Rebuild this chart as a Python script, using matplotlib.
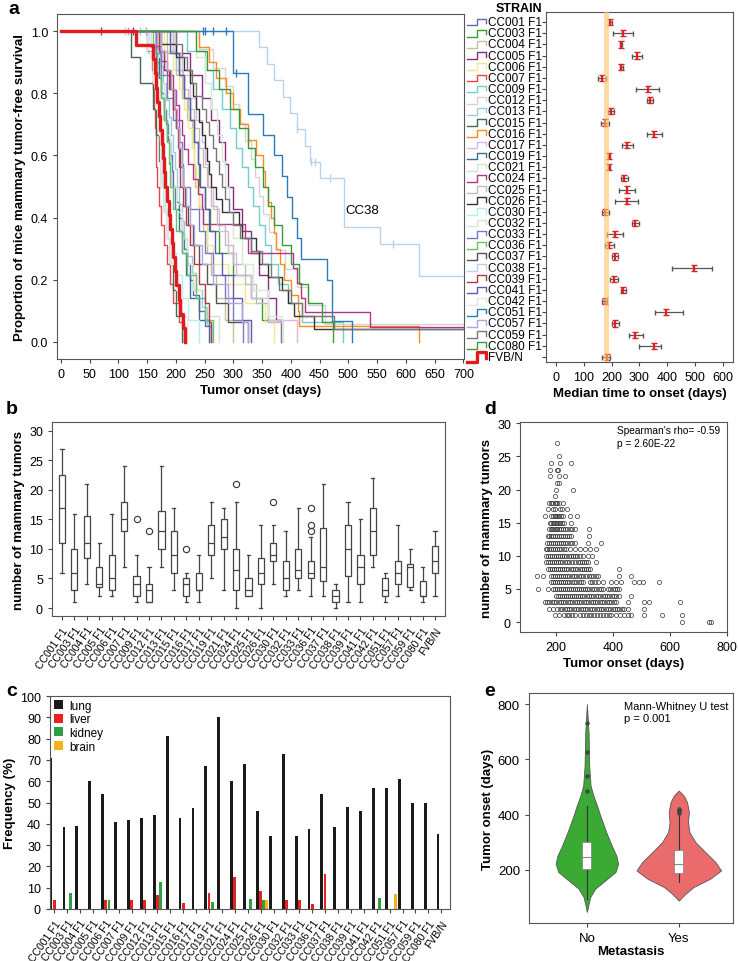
import numpy as np
import matplotlib
matplotlib.use('Agg')
import matplotlib.pyplot as plt
import matplotlib.transforms as mtransforms

plt.rcParams['font.family'] = ['Liberation Sans', 'DejaVu Sans']
plt.rcParams['axes.edgecolor'] = '#555555'
plt.rcParams['axes.linewidth'] = 0.8
plt.rcParams['xtick.color'] = '#444444'
plt.rcParams['ytick.color'] = '#444444'
plt.rcParams['xtick.labelcolor'] = 'black'
plt.rcParams['ytick.labelcolor'] = 'black'
plt.rcParams['xtick.major.size'] = 3
plt.rcParams['ytick.major.size'] = 3

# ---------------- data ----------------
strains = ['CC001 F1', 'CC003 F1', 'CC004 F1', 'CC005 F1', 'CC006 F1', 'CC007 F1',
           'CC009 F1', 'CC012 F1', 'CC013 F1', 'CC015 F1', 'CC016 F1', 'CC017 F1',
           'CC019 F1', 'CC021 F1', 'CC024 F1', 'CC025 F1', 'CC026 F1', 'CC030 F1',
           'CC032 F1', 'CC033 F1', 'CC036 F1', 'CC037 F1', 'CC038 F1', 'CC039 F1',
           'CC041 F1', 'CC042 F1', 'CC051 F1', 'CC057 F1', 'CC059 F1', 'CC080 F1', 'FVB/N']

strain_colors = ['#5a6bb5', '#33a02c', '#c8c09a', '#8b2a7e', '#efe98a', '#e8444a',
                 '#6fcfc9', '#d4d4d4', '#9ecae1', '#3f6b50', '#ff8c1a', '#e4b4dc',
                 '#3a6e9a', '#cfe8c8', '#b5338a', '#bdbdbd', '#333333', '#b8ecec',
                 '#d5ead0', '#7b79c5', '#6cbf6c', '#555555', '#b9d3ee', '#b03a48',
                 '#5a5ab0', '#e8e8e8', '#2b7bba', '#b7a3d6', '#777777', '#3a9a3a', '#e31a1c']

# Kaplan-Meier input: group size and tumor onset days per strain
km_n = [20, 14, 14, 14, 16, 16, 16, 17, 18, 12, 20, 14, 14, 12, 21, 16, 24, 14,
        12, 14, 14, 16, 19, 16, 14, 12, 15, 16, 24, 16, 22]
km_events = [
    [155, 165, 170, 175, 180, 183, 186, 190, 193, 196, 200, 205, 210, 215, 220, 225, 230, 240, 250, 262],
    [195, 205, 215, 225, 232, 238, 241, 250, 260, 275, 300, 330, 350, 385],
    [185, 200, 210, 220, 228, 232, 234, 240, 248, 255, 262, 270, 285, 300],
    [200, 225, 245, 262, 275, 285, 290, 300, 315, 330, 345, 360, 375, 383],
    [180, 195, 205, 215, 222, 228, 232, 235, 240, 248, 255, 265, 290, 320, 355, 370],
    [150, 158, 160, 162, 164, 165, 166, 168, 170, 175, 180, 185, 190, 196, 205, 215],
    [220, 250, 265, 280, 295, 305, 315, 325, 335, 345, 355, 365, 378, 395, 420, 490],
    [240, 265, 285, 300, 310, 320, 330, 338, 345, 352, 362, 375, 390, 410, 430, 460],
    [165, 172, 178, 183, 188, 192, 196, 199, 202, 206, 210, 215, 220, 228, 235, 245, 255, 262],
    [122, 137, 160, 165, 170, 175, 180, 185, 190, 195, 200, 210],
    [240, 258, 270, 288, 300, 312, 325, 340, 352, 355, 360, 365, 370, 375, 382, 388, 400, 412, 415, 622],
    [195, 210, 225, 235, 245, 250, 256, 265, 275, 290, 305, 330, 360, 410],
    [165, 170, 175, 180, 185, 190, 192, 198, 205, 210, 218, 225, 240, 258],
    [170, 175, 180, 185, 190, 192, 200, 210, 220, 230, 250, 275],
    [165, 175, 185, 195, 200, 205, 210, 215, 222, 230, 238, 245, 248, 320, 325, 404, 410, 418, 425, 538],
    [190, 200, 212, 222, 232, 240, 248, 254, 262, 272, 285, 300, 320, 340, 360, 385],
    [175, 200, 215, 225, 230, 235, 240, 245, 250, 255, 258, 262, 270, 280, 310, 315, 340, 345, 360, 385, 395, 405, 441],
    [150, 160, 165, 170, 172, 175, 177, 182, 188, 195, 200, 210, 222, 240],
    [235, 250, 262, 272, 280, 285, 292, 300, 315, 335, 360, 385],
    [165, 175, 185, 195, 205, 210, 212, 225, 240, 250, 265, 285, 300, 316],
    [160, 168, 175, 180, 185, 188, 190, 195, 200, 210, 220, 235, 250, 265],
    [170, 180, 190, 196, 200, 205, 208, 212, 216, 222, 230, 240, 255, 270, 290, 326],
    [345, 358, 371, 387, 398, 411, 425, 433, 450, 493, 493, 493, 555, 623, 623],
    [170, 180, 188, 195, 200, 203, 205, 207, 212, 218, 225, 232, 240, 250, 258, 262],
    [190, 205, 215, 225, 232, 238, 242, 250, 258, 268, 280, 300, 315, 330],
    [155, 160, 165, 170, 173, 175, 180, 185, 190, 200, 210, 220],
    [300, 300, 326, 326, 352, 371, 385, 394, 402, 410, 417, 462, 471, 471, 506],
    [175, 185, 192, 198, 202, 206, 210, 213, 218, 225, 232, 245, 265, 290, 315, 326],
    [200, 210, 220, 228, 235, 245, 252, 258, 265, 270, 275, 280, 285, 292, 300, 312, 330, 350, 365, 380, 400, 420, 475],
    [235, 255, 275, 295, 310, 325, 338, 351, 360, 370, 385, 400, 415, 430, 455, 474],
    [131, 160, 163, 166, 168, 170, 173, 176, 178, 180, 182, 185, 188, 190, 193, 195, 198, 200, 205, 208, 212, 216],
]
km_censored = {'CC024 F1': [70], 'CC017 F1': [112], 'CC057 F1': [117, 148], 'CC005 F1': [126],
               'CC013 F1': [137], 'CC051 F1': [248, 251, 264, 287, 305],
               'CC038 F1': [411, 435, 442, 468, 578]}

median_onset = [196, 241, 234, 290, 235, 166, 330, 338, 199, 175, 353, 256, 192, 192, 245, 254,
                254, 177, 285, 212, 190, 212, 496, 207, 242, 175, 397, 213, 285, 351, 182]
median_lo = [190, 206, 229, 275, 231, 152, 287, 326, 188, 163, 328, 237, 188, 188, 233, 225,
             213, 164, 273, 182, 176, 200, 416, 194, 235, 164, 358, 201, 261, 299, 166]
median_hi = [202, 277, 239, 308, 240, 180, 371, 350, 208, 189, 380, 278, 196, 196, 259, 286,
             295, 190, 297, 240, 208, 224, 563, 222, 251, 185, 456, 225, 312, 377, 196]

# panel b: box statistics of tumor number per strain
box_whislo = [6, 1, 4, 2, 2, 7, 1, 1, 7, 3, 1, 1, 5, 3, 0, 2, 0, 4, 2, 3, 2, 2, 0, 1, 1, 7, 1, 2, 3, 1, 2]
box_q1 = [11, 3, 8.5, 3.5, 3, 13, 2, 1, 10, 6, 2, 3, 9, 10, 3, 2, 4, 8, 3, 5, 5, 4.5, 1, 5.5, 4, 9, 2, 4, 3.5, 2, 6]
box_med = [17, 6, 11, 4, 5, 15, 4, 3, 13, 9, 4, 3, 11, 12, 6.5, 3, 6, 9, 5, 6.5, 6, 7, 2, 10, 7, 13, 3, 6, 7, 2, 8]
box_q3 = [22.5, 10, 15.5, 7, 9, 18, 5.5, 4, 16.5, 13, 5, 6, 14, 15, 10, 5, 8.5, 11, 8, 10, 8, 13.5, 3, 14, 9, 17, 5, 8, 7.5, 4.5, 10.5]
box_whishi = [27, 16, 21, 11, 16, 24, 9, 7, 24, 17, 6, 9, 18, 17, 18, 9, 14, 14, 13, 17, 12, 21, 4, 18, 15, 22, 6, 14, 10, 7, 13]
box_fliers = {6: [15], 7: [13], 10: [10], 14: [21], 17: [18], 20: [13, 14, 17]}

# panel c: metastasis frequency (%)
lung_pct = [71, 38.5, 39, 60, 54, 41, 42, 42.5, 44, 81, 42.5, 47.5, 67, 90, 60, 68, 46, 34.5,
            73, 34.5, 37.5, 54, 38.5, 48, 46, 57, 57, 61, 50, 50, 35]
liver_pct = [4, 0, 0, 0, 4, 0, 4, 4, 6.5, 0, 3, 0, 7.5, 0, 15, 0, 8.5, 0, 4, 4, 2.5, 16.5,
             0, 0, 0, 0, 0, 0, 0, 0, 0]
kidney_pct = [0, 7.5, 0, 0, 4, 0, 0, 0, 12.5, 0, 0, 0, 3.5, 0, 0, 4.5, 4, 0, 0, 0, 0, 0,
              0, 0, 0, 5, 0, 0, 0, 0, 0]
brain_pct = [0, 0, 0, 0, 0, 0, 0, 0, 0, 0, 0, 0, 0, 0, 0, 0, 4, 0, 0, 0, 0, 0,
             0, 0, 0, 0, 7, 0, 0, 0, 0]

# panel d: tumor number vs onset day, one row per tumor count
scatter_rows = {
    27: [205],
    25: [212],
    24: [184, 214, 255],
    23: [179, 205, 208],
    22: [181, 212, 234],
    21: [205, 212],
    20: [202, 260],
    19: [197],
    18: [178, 183, 188, 196, 200, 204, 210, 226],
    17: [173, 190, 197, 216, 222, 239],
    16: [162, 185, 191, 196, 201, 207, 212, 218, 225, 251, 275],
    15: [179, 185, 190, 195, 200, 206, 211, 216, 222, 229, 255],
    14: [176, 182, 188, 194, 200, 206, 212, 218, 225, 233, 241, 249, 258, 266, 316],
    13: [172, 178, 185, 191, 197, 204, 210, 217, 224, 231, 239, 247, 255, 316],
    12: [171, 177, 184, 190, 197, 204, 210, 217, 224, 231, 238, 249, 258, 268, 313, 357],
    11: [165, 171, 178, 185, 192, 199, 206, 213, 220, 228, 235, 249, 266, 284, 301, 319, 340],
    10: [167, 174, 181, 188, 195, 202, 209, 216, 223, 230, 237, 245, 252, 260, 268, 276, 285, 295, 313, 328],
    9: [167, 174, 181, 188, 195, 202, 209, 216, 223, 231, 239, 247, 256, 266, 278, 284, 291, 299, 306, 313, 342],
    8: [173, 180, 187, 194, 201, 208, 215, 222, 229, 236, 244, 252, 260, 268, 276, 284, 293, 300, 307, 313, 319, 423],
    7: [133, 156, 185, 192, 199, 206, 213, 220, 227, 234, 241, 248, 256, 264, 272, 280, 288, 295, 307, 315, 323,
        332, 340, 348, 423, 464],
    6: [185, 192, 199, 206, 213, 220, 227, 234, 241, 248, 256, 264, 272, 280, 288, 295, 319, 327, 336, 348, 365,
        394, 412, 429, 476, 493, 507, 563],
    5: [138, 173, 191, 198, 205, 212, 219, 226, 233, 240, 247, 254, 261, 268, 275, 282, 289, 296, 303, 310, 318,
        326, 334, 342, 350, 358, 365, 383, 391, 399, 407, 415, 423],
    4: [200, 207, 214, 221, 228, 235, 242, 249, 256, 263, 270, 277, 284, 292, 300, 308, 316, 324, 332, 340, 348,
        356, 364, 372, 380, 388, 396, 404, 412, 423, 464],
    3: [162, 170, 178, 186, 194, 202, 210, 218, 226, 234, 242, 250, 258, 266, 274, 282, 290, 298, 306, 314, 322,
        330, 338, 346, 354, 362, 370, 378, 386, 395, 404, 412, 452, 510, 528, 635],
    2: [177, 190, 205, 215, 223, 231, 239, 247, 255, 263, 271, 279, 287, 295, 303, 311, 319, 327, 335, 343, 351,
        359, 367, 375, 383, 391, 399, 407, 415, 423, 431, 440, 452, 510],
    1: [197, 210, 228, 238, 248, 258, 268, 285, 295, 305, 315, 325, 335, 345, 355, 365, 375, 385, 395, 410, 425,
        440, 455, 464, 510, 572, 641],
    0: [644, 737, 743],
}

# panel e: violin outlines (onset day, half width) and box summaries
violin_groups = ['No', 'Yes']
no_days = [48, 72, 102, 132, 162, 192, 222, 252, 288, 337, 397, 433, 469, 505, 577, 697, 800]
no_width = [0, 0.015, 0.036, 0.09, 0.2, 0.31, 0.34, 0.32, 0.27, 0.21, 0.145, 0.11, 0.07, 0.04, 0.025, 0.018, 0]
yes_days = [89, 113, 138, 168, 198, 228, 264, 301, 337, 373, 409, 445, 469, 487]
yes_width = [0, 0.07, 0.16, 0.34, 0.46, 0.40, 0.29, 0.18, 0.116, 0.10, 0.11, 0.09, 0.054, 0]
violin_q1 = [204, 190]
violin_med = [247, 222]
violin_q3 = [302, 271]
violin_lo = [96, 156]
violin_hi = [433, 398]
violin_out = [[487, 541, 626, 730], [405, 412, 418, 422]]

# ---------------- figure ----------------
W, H = 738, 962
fig = plt.figure(figsize=(W / 100, H / 100), dpi=100)


def add_ax(left, top, right, bottom):
    return fig.add_axes([left / W, 1 - bottom / H, (right - left) / W, (bottom - top) / H])


def km_xy(events, n):
    xs, ys = [0], [1.0]
    for k, t in enumerate(sorted(events), 1):
        xs.append(t)
        ys.append(1 - k / n)
    if ys[-1] > 0:
        xs.append(720)
        ys.append(ys[-1])
    return np.array(xs), np.array(ys)


# --- panel a: survival curves
ax = add_ax(57, 15, 464, 360)
for i, s in enumerate(strains):
    xs, ys = km_xy(km_events[i], km_n[i])
    lw = 2.4 if s == 'FVB/N' else 1.0
    z = 5 if s == 'FVB/N' else 2
    ax.step(xs, ys, where='post', color=strain_colors[i], lw=lw, zorder=z)
    for c in km_censored.get(s, []):
        yv = ys[np.searchsorted(xs, c, side='right') - 1]
        ax.plot(c, yv, marker='|', ms=6, mew=1.0, color=strain_colors[i], zorder=z)
ax.text(495, 0.425, 'CC38', fontsize=9.5, va='center')
ax.set_xlim(-6.5, 701)
ax.set_ylim(-0.055, 1.055)
ax.set_xticks(np.arange(0, 701, 50))
ax.set_yticks(np.arange(0, 1.01, 0.2))
ax.set_yticklabels(['%.1f' % v for v in np.arange(0, 1.01, 0.2)])
ax.tick_params(labelsize=9)
ax.set_xlabel('Tumor onset (days)', fontsize=9.5, fontweight='bold', labelpad=3)
ax.set_ylabel('Proportion of mice mammary tumor-free survival', fontsize=9.5, fontweight='bold', labelpad=3)

# --- panel a: median time to onset
axm = add_ax(546, 13, 733, 363)
rows = np.arange(len(strains))
axm.axvspan(172, 192, color='#fbc46a', alpha=0.6, lw=0, zorder=4)
axm.errorbar(median_onset, rows,
             xerr=[np.array(median_onset) - np.array(median_lo), np.array(median_hi) - np.array(median_onset)],
             fmt='none', ecolor='#555555', elinewidth=0.9, capsize=1.8, zorder=2)
axm.errorbar(median_onset, rows, yerr=0.28, fmt='none', ecolor='#e02020', elinewidth=1.6, capsize=2, zorder=3)
axm.set_xlim(-36, 637)
axm.set_ylim(30.45, -0.9)
axm.set_xticks(np.arange(0, 601, 100))
axm.set_yticks(rows)
axm.set_yticklabels([])
axm.tick_params(labelsize=9)
axm.set_xlabel('Median time to onset (days)', fontsize=9.5, fontweight='bold', labelpad=3)
trans = mtransforms.blended_transform_factory(axm.transAxes, axm.transData)
for i, s in enumerate(strains):
    big = s == 'FVB/N'
    lw = 2.4 if big else 1.0
    dy = 0.42 if big else 0.3
    axm.plot([-0.425, -0.368, -0.368, -0.322, -0.322], [i + dy, i + dy, i - dy, i - dy, i + 0.1],
             color=strain_colors[i], lw=lw, transform=trans, clip_on=False)
    axm.text(-0.308, i, s, transform=trans, fontsize=8.5, ha='left', va='center')
fig.text(519 / W, 1 - 9 / H, 'STRAIN', fontsize=9, fontweight='bold', ha='center', va='center')

# --- panel b: box plots
axb = add_ax(52, 423, 445, 617)
stats = []
for i in range(len(strains)):
    stats.append({'whislo': box_whislo[i], 'q1': box_q1[i], 'med': box_med[i], 'q3': box_q3[i],
                  'whishi': box_whishi[i], 'fliers': box_fliers.get(i, [])})
bc = '#444444'
axb.bxp(stats, positions=rows, widths=0.5, capwidths=0.25, patch_artist=True,
        boxprops=dict(facecolor='white', edgecolor=bc, lw=0.9),
        medianprops=dict(color=bc, lw=0.9), whiskerprops=dict(color=bc, lw=0.9),
        capprops=dict(color=bc, lw=0.9),
        flierprops=dict(marker='o', mfc='none', mec='#333333', ms=4.5, mew=0.8))
axb.set_xlim(-0.8, 30.8)
axb.set_ylim(-1.35, 31.5)
axb.set_yticks(np.arange(0, 31, 5))
axb.set_xticks(rows)
axb.set_xticklabels(strains, rotation=55, ha='right', rotation_mode='anchor', fontsize=7.5)
axb.tick_params(axis='y', labelsize=9)
axb.set_ylabel('number of mammary tumors', fontsize=9.5, fontweight='bold', labelpad=3)

# --- panel d: scatter
axd = add_ax(520, 423, 727, 633)
for yv, xs in scatter_rows.items():
    axd.plot(xs, [yv] * len(xs), ls='none', marker='o', ms=3, mfc='none', mec='#333333', mew=0.5)
axd.set_xlim(75, 800)
axd.set_ylim(-1.5, 30.2)
axd.set_xticks([200, 400, 600, 800])
axd.set_yticks(np.arange(0, 31, 5))
axd.tick_params(labelsize=9)
axd.set_xlabel('Tumor onset (days)', fontsize=9.5, fontweight='bold', labelpad=3)
axd.set_ylabel('number of mammary tumors', fontsize=9.5, fontweight='bold', labelpad=3)
axd.text(0.47, 0.985, "Spearman's rho= -0.59\np = 2.60E-22", transform=axd.transAxes,
         fontsize=7.3, va='top', ha='left', linespacing=1.3)

# --- panel c: metastasis bars
axc = add_ax(50, 697, 450, 910)
bw = 0.22
axc.bar(rows, lung_pct, width=bw, color='#1a1a1a', label='lung', zorder=2)
axc.bar(rows + 0.245, liver_pct, width=bw, color='#e8201f', label='liver', zorder=2)
axc.bar(rows + 0.49, kidney_pct, width=bw, color='#2ea043', label='kidney', zorder=2)
axc.bar(rows + 0.735, brain_pct, width=bw, color='#f5b21b', label='brain', zorder=2)
axc.set_xlim(-0.08, 30.93)
axc.set_ylim(0, 100)
axc.set_yticks(np.arange(0, 101, 10))
axc.set_xticks(rows + 0.25)
axc.set_xticklabels(strains, rotation=55, ha='right', rotation_mode='anchor', fontsize=7.5)
axc.tick_params(axis='y', labelsize=9)
axc.set_ylabel('Frequency (%)', fontsize=9.5, fontweight='bold', labelpad=3)
axc.legend(loc='upper left', frameon=False, fontsize=8.5, handlelength=0.8, handleheight=0.8,
           handletextpad=0.5, labelspacing=0.15, borderaxespad=0.2, borderpad=0.1)

# --- panel e: violins
axe = add_ax(529, 694, 733, 924)
shapes = [(no_days, no_width, '#3aaa35'), (yes_days, yes_width, '#e96b6b')]
for k, (dd, ww, col) in enumerate(shapes):
    ww = np.array(ww)
    axe.fill_betweenx(dd, k - ww, k + ww, facecolor=col, edgecolor='#555555', lw=0.6, zorder=1)
    axe.plot([k, k], [violin_lo[k], violin_hi[k]], color='#333333', lw=0.8, zorder=2)
    axe.bar(k, violin_q3[k] - violin_q1[k], bottom=violin_q1[k], width=0.1, color='white',
            edgecolor='#888888', lw=0.6, zorder=3)
    axe.plot([k - 0.05, k + 0.05], [violin_med[k]] * 2, color='#888888', lw=0.8, zorder=4)
    axe.plot([k] * len(violin_out[k]), violin_out[k], ls='none', marker='o', ms=2.2,
             color='#444444', zorder=4)
axe.set_xlim(-0.63, 1.59)
axe.set_ylim(8, 840)
axe.set_xticks([0, 1])
axe.set_xticklabels(violin_groups)
axe.set_yticks([200, 400, 600, 800])
axe.tick_params(labelsize=9.5)
axe.set_xlabel('Metastasis', fontsize=9.5, fontweight='bold', labelpad=1)
axe.set_ylabel('Tumor onset (days)', fontsize=9.5, fontweight='bold', labelpad=3)
axe.text(0.466, 0.965, 'Mann-Whitney U test\np = 0.001', transform=axe.transAxes,
         fontsize=8, va='top', ha='left', linespacing=1.3)

# panel letters
for letter, x, y in [('a', 8, 10), ('b', 6, 410), ('c', 6, 692), ('d', 484, 410), ('e', 484, 692)]:
    fig.text(x / W, 1 - y / H, letter, fontsize=14, fontweight='bold', ha='left', va='center')

fig.savefig('out.png', dpi=100)
